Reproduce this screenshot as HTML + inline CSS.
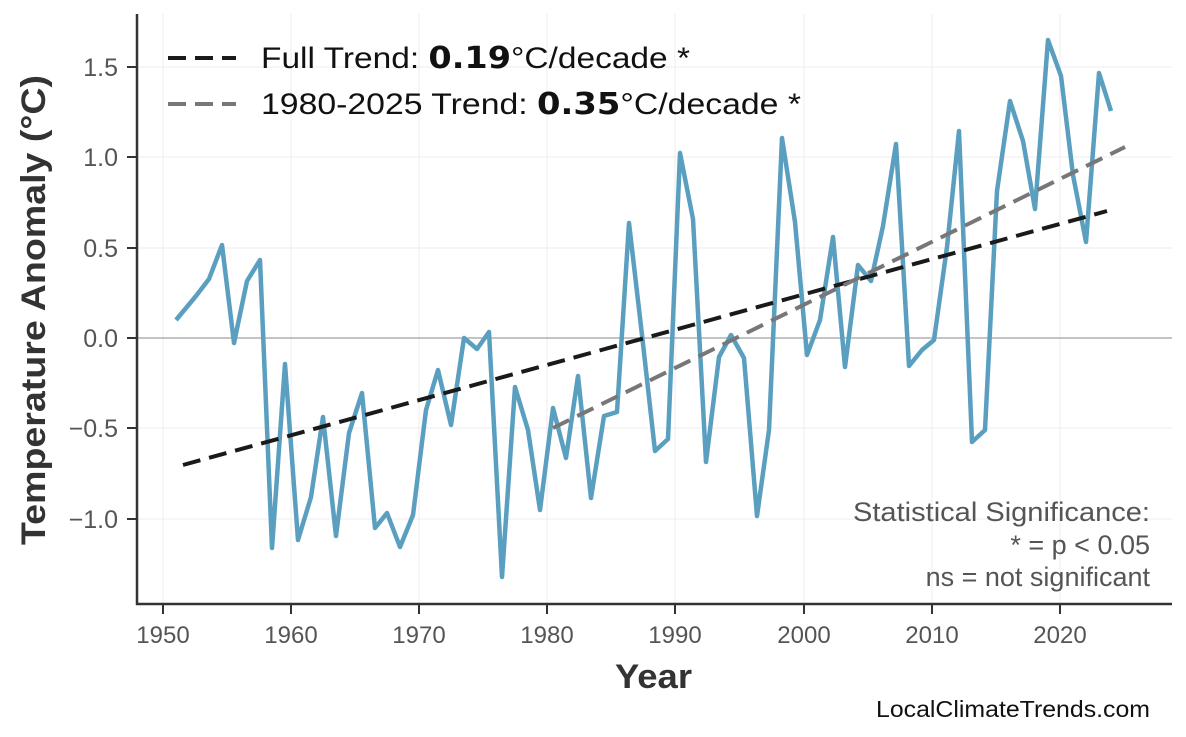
<!DOCTYPE html>
<html><head><meta charset="utf-8"><style>body{margin:0;background:#fff}svg{display:block}</style></head><body>
<svg width="1186" height="737" viewBox="0 0 1186 737" xmlns="http://www.w3.org/2000/svg" font-family="Liberation Sans, sans-serif">
<g stroke="#ececec" stroke-width="1">
<line x1="163" y1="14" x2="163" y2="604"/><line x1="291" y1="14" x2="291" y2="604"/><line x1="419" y1="14" x2="419" y2="604"/><line x1="547" y1="14" x2="547" y2="604"/><line x1="675" y1="14" x2="675" y2="604"/><line x1="804" y1="14" x2="804" y2="604"/><line x1="932" y1="14" x2="932" y2="604"/><line x1="1060" y1="14" x2="1060" y2="604"/>
<line x1="137" y1="67" x2="1172" y2="67"/><line x1="137" y1="157" x2="1172" y2="157"/><line x1="137" y1="248" x2="1172" y2="248"/><line x1="137" y1="428" x2="1172" y2="428"/><line x1="137" y1="519" x2="1172" y2="519"/>
</g>
<line x1="137" y1="338" x2="1172" y2="338" stroke="#b0b0b0" stroke-width="1.5"/>
<polyline fill="none" stroke="#5a9fc0" stroke-width="4.5" stroke-linejoin="round" points="176,320 196,296 209,279 222,245 234,343 247,281 260,260 272,548 285,364 298,540 311,497 323,417 336,536 349,433 362,393 375,528 387,513 400,547 413,515 426,410 438,370 451,425 464,338 477,349 489,332 502,577 515,387 528,430 540,510 553,408 566,458 578,376 591,498 604,416 617,412 629,223 642,335 655,451 668,439 680,153 693,219 706,462 719,357 731,335 744,358 757,516 769,430 782,138 795,222 807,355 820,320 833,237 845,367 858,265 871,281 883,226 896,144 909,366 922,350 934,340 947,247 959,131 972,442 985,430 997,191 1010,101 1023,141 1035,209 1048,40 1061,76 1073,175 1086,242 1099,73 1111,111"/>
<line x1="183" y1="465" x2="1107" y2="211" stroke="#1a1a1a" stroke-width="4" stroke-dasharray="18,9"/>
<line x1="553" y1="428" x2="1125" y2="147" stroke="#777" stroke-width="4" stroke-dasharray="18,9"/>
<g stroke="#333" stroke-width="2.5" fill="none"><line x1="137" y1="14" x2="137" y2="605"/><line x1="136" y1="604" x2="1172" y2="604"/></g>
<g stroke="#333" stroke-width="2">
<line x1="163" y1="604" x2="163" y2="614"/><line x1="291" y1="604" x2="291" y2="614"/><line x1="419" y1="604" x2="419" y2="614"/><line x1="547" y1="604" x2="547" y2="614"/><line x1="675" y1="604" x2="675" y2="614"/><line x1="804" y1="604" x2="804" y2="614"/><line x1="932" y1="604" x2="932" y2="614"/><line x1="1060" y1="604" x2="1060" y2="614"/>
<line x1="127" y1="67" x2="137" y2="67"/><line x1="127" y1="157" x2="137" y2="157"/><line x1="127" y1="248" x2="137" y2="248"/><line x1="127" y1="338" x2="137" y2="338"/><line x1="127" y1="428" x2="137" y2="428"/><line x1="127" y1="519" x2="137" y2="519"/>
</g>
<g font-size="24" fill="#555" text-anchor="middle">
<text x="163" y="643">1950</text><text x="291" y="643">1960</text><text x="419" y="643">1970</text><text x="547" y="643">1980</text><text x="675" y="643">1990</text><text x="804" y="643">2000</text><text x="932" y="643">2010</text><text x="1060" y="643">2020</text>
</g>
<g font-size="25" fill="#555" text-anchor="end">
<text x="118" y="76">1.5</text><text x="118" y="166">1.0</text><text x="118" y="257">0.5</text><text x="118" y="347">0.0</text><text x="118" y="437">−0.5</text><text x="118" y="528">−1.0</text>
</g>
<text x="615" y="688" font-size="34" font-weight="bold" fill="#333" textLength="77" lengthAdjust="spacingAndGlyphs">Year</text>
<text transform="translate(45,545) rotate(-90)" font-size="34" font-weight="bold" fill="#333" textLength="470" lengthAdjust="spacingAndGlyphs">Temperature Anomaly (°C)</text>
<line x1="168" y1="58" x2="236" y2="58" stroke="#1a1a1a" stroke-width="4" stroke-dasharray="18,9"/>
<line x1="168" y1="104" x2="236" y2="104" stroke="#777" stroke-width="4" stroke-dasharray="18,9"/>
<text x="261" y="68" font-size="30" fill="#111" textLength="429" lengthAdjust="spacingAndGlyphs">Full Trend: <tspan font-family="DejaVu Sans, sans-serif" font-weight="bold">0.19</tspan>°C/decade *</text>
<text x="261" y="114" font-size="30" fill="#111" textLength="540" lengthAdjust="spacingAndGlyphs">1980-2025 Trend: <tspan font-family="DejaVu Sans, sans-serif" font-weight="bold">0.35</tspan>°C/decade *</text>
<g font-size="27" fill="#555" text-anchor="end">
<text x="1150" y="521" textLength="297" lengthAdjust="spacingAndGlyphs">Statistical Significance:</text><text x="1150" y="554">* = p &lt; 0.05</text><text x="1150" y="586">ns = not significant</text>
</g>
<text x="1150" y="717" font-size="23" fill="#111" text-anchor="end" textLength="274" lengthAdjust="spacingAndGlyphs">LocalClimateTrends.com</text>
</svg>
</body></html>
